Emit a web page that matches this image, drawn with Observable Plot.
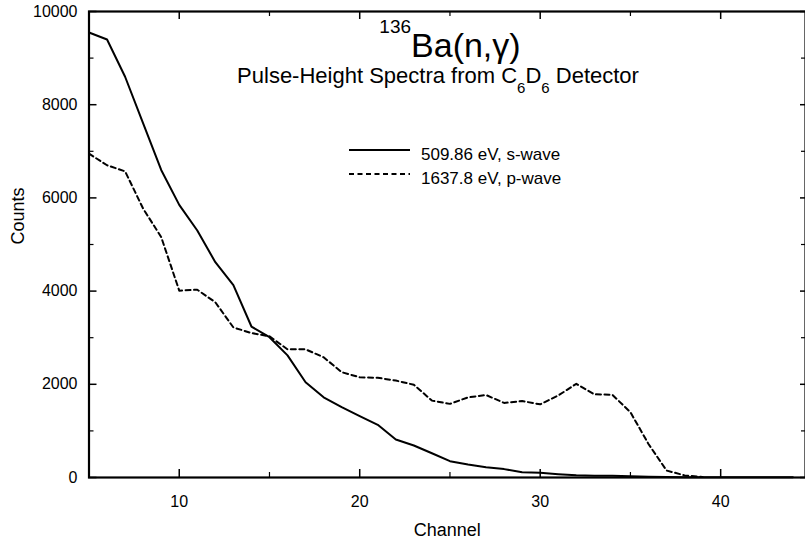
<!DOCTYPE html>
<html><head><meta charset="utf-8">
<script src="https://cdn.jsdelivr.net/npm/d3@7"></script>
<script src="https://cdn.jsdelivr.net/npm/@observablehq/plot@0.6"></script>
<style>body{margin:0;background:#fff} svg{display:block}</style>
</head><body><div id="chart"></div>
<script>
// Channel numbers
const sChannels = [5,6,7,8,9,10,11,12,13,14,15,16,17,18,19,20,21,22,23,24,25,26,27,28,29,30,31,32,33,34,35,36,37,38,39,40,41,42,43,44];
// 509.86 eV, s-wave
const sCounts = [9550,9400,8600,7600,6600,5850,5300,4620,4130,3240,3010,2620,2045,1720,1510,1316,1130,815,687,520,350,280,222,180,114,100,72,50,40,35,25,15,10,8,5,5,5,5,5,5];
const pChannels = [5,6,7,8,9,10,11,12,13,14,15,16,17,18,19,20,21,22,23,24,25,26,27,28,29,30,31,32,33,34,35,36,37,38,39];
// 1637.8 eV, p-wave
const pCounts = [6950,6700,6570,5770,5160,4010,4030,3760,3220,3100,3030,2750,2750,2580,2260,2150,2140,2080,1990,1650,1580,1720,1770,1600,1640,1570,1760,2010,1785,1775,1400,720,150,45,10];

const xMajor = [10,20,30,40];
const xMinor = [15,25,35];
const yMajor = [0,2000,4000,6000,8000,10000];
const yMinor = [1000,3000,5000,7000,9000];

const sData = sChannels.map((c,i)=>({c, v:sCounts[i]}));
const pData = pChannels.map((c,i)=>({c, v:pCounts[i]}));

const W = 805, H = 546, mL = 88.5, mR = 0, mT = 11, mB = 69;
const iW = W - mL - mR, iH = H - mT - mB;
const font = "'Liberation Sans', Arial, Helvetica, sans-serif";

const svg = Plot.plot({
  width: W, height: H,
  marginLeft: mL, marginRight: mR, marginTop: mT, marginBottom: mB,
  style: {fontFamily: font, background: "#fff", color: "#000"},
  x: {domain: [5, 44.7]},
  y: {domain: [0, 10000]},
  marks: [
    Plot.axisX({ticks: xMajor, tickSize: 0, tickPadding: 18, fontSize: 16, label: null}),
    Plot.axisY({ticks: yMajor, tickSize: 0, tickPadding: 11.5, fontSize: 16, label: null, tickFormat: d=>String(d)}),
    Plot.ruleX(xMajor, {x: d=>d, insetTop: iH-8, stroke: "#000", strokeWidth: 1.5}),
    Plot.ruleX(xMajor, {x: d=>d, insetBottom: iH-8, stroke: "#000", strokeWidth: 1.5}),
    Plot.ruleX(xMinor, {x: d=>d, insetTop: iH-5, stroke: "#000", strokeWidth: 1.2}),
    Plot.ruleX(xMinor, {x: d=>d, insetBottom: iH-5, stroke: "#000", strokeWidth: 1.2}),
    Plot.ruleY(yMajor, {y: d=>d, insetRight: iW-8, stroke: "#000", strokeWidth: 1.5}),
    Plot.ruleY(yMinor, {y: d=>d, insetRight: iW-5, stroke: "#000", strokeWidth: 1.2}),
    Plot.ruleY(yMajor, {y: d=>d, insetLeft: iW-5, stroke: "#000", strokeWidth: 1.5}),
    Plot.ruleY(yMinor, {y: d=>d, insetLeft: iW-4, stroke: "#000", strokeWidth: 1.2}),
    Plot.line(pData, {x: "c", y: "v", stroke: "#000", strokeWidth: 2, strokeDasharray: "5,3.5"}),
    Plot.line(sData, {x: "c", y: "v", stroke: "#000", strokeWidth: 2}),
    Plot.frame({stroke: "#000", strokeWidth: 2.2}),
    Plot.text(["Counts"], {frameAnchor: "left", dx: -71, rotate: -90, fontSize: 18, fill: "#000"}),
    Plot.text(["Channel"], {frameAnchor: "bottom", dy: 58, fontSize: 18, fill: "#000"})
  ]
});

const s = d3.select(svg);
// Title
const t = s.append("text").attr("x", 450).attr("y", 57).attr("text-anchor", "middle")
  .attr("font-family", font).attr("fill", "#000");
t.append("tspan").attr("font-size", 19).attr("dy", -24).text("136");
t.append("tspan").attr("font-size", 34).attr("dy", 24).text("Ba(n,γ)");
// Subtitle
const st = s.append("text").attr("x", 438).attr("y", 83).attr("text-anchor", "middle")
  .attr("font-family", font).attr("font-size", 22).attr("fill", "#000");
st.append("tspan").text("Pulse-Height Spectra from C");
st.append("tspan").attr("font-size", 15).attr("dy", 10).text("6");
st.append("tspan").attr("dy", -10).text("D");
st.append("tspan").attr("font-size", 15).attr("dy", 10).text("6");
st.append("tspan").attr("dy", -10).text(" Detector");
// Legend
const legend = [
  {label: "509.86 eV, s-wave", dash: null, y: 150},
  {label: "1637.8 eV, p-wave", dash: "5,3.5", y: 174}
];
legend.forEach(d => {
  s.append("line").attr("x1", 349).attr("x2", 410).attr("y1", d.y).attr("y2", d.y)
    .attr("stroke", "#000").attr("stroke-width", 2).attr("stroke-dasharray", d.dash);
  s.append("text").attr("x", 421).attr("y", d.y + 10).attr("text-anchor", "start")
    .attr("font-family", font).attr("font-size", 17).attr("fill", "#000").text(d.label);
});

document.getElementById("chart").appendChild(svg);
</script>
</body></html>
